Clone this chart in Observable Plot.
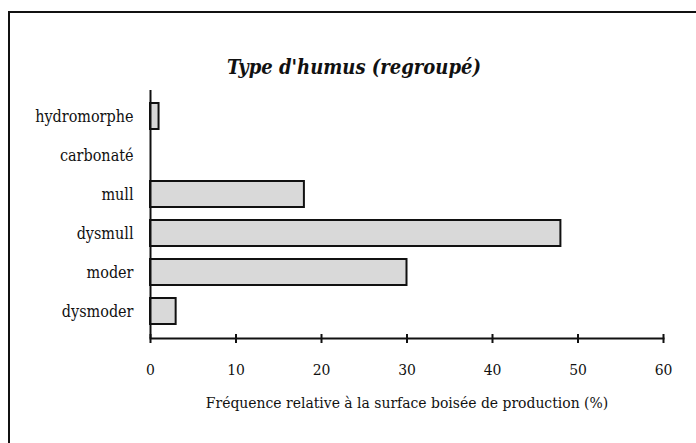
<!DOCTYPE html>
<html>
<head>
<meta charset="utf-8">
<script src="https://cdn.jsdelivr.net/npm/d3@7"></script>
<script src="https://cdn.jsdelivr.net/npm/@observablehq/plot@0.6"></script>
<style>
  html, body { margin: 0; padding: 0; background: #fff; overflow: hidden; }
  #wrap { position: relative; width: 696px; height: 443px; }
  #border { position: absolute; left: 8px; top: 11px; width: 800px; height: 600px; border: 2px solid #111; pointer-events: none; }
  #wrap svg text { font-stretch: condensed; }
</style>
</head>
<body>
<div id="wrap"><div id="border"></div></div>
<script>
const categories = ["hydromorphe", "carbonaté", "mull", "dysmull", "moder", "dysmoder"];
const values = [1, 0, 18, 48, 30, 3];
const xTicks = [0, 10, 20, 30, 40, 50, 60];
const title = "Type d'humus (regroupé)";
const xLabel = "Fréquence relative à la surface boisée de production (%)";

const data = categories.map((c, i) => ({category: c, value: values[i]}));
const FF = "'DejaVu Serif Condensed', 'DejaVu Serif', serif";

const chart = Plot.plot({
  width: 696,
  height: 443,
  marginLeft: 150,
  marginRight: 33,
  marginTop: 90,
  marginBottom: 105,
  style: "font-family: 'DejaVu Serif Condensed', 'DejaVu Serif', serif; color: #111; background: transparent;",
  x: {domain: [0, 60], label: null},
  y: {domain: categories, padding: 0.33, label: null},
  marks: [
    Plot.barX(data.filter(d => d.value > 0), {x: "value", y: "category", fill: "#d9d9d9", stroke: "#111", strokeWidth: 2}),
    Plot.ruleX([0], {stroke: "#111", strokeWidth: 2}),
    Plot.frame({anchor: "bottom", stroke: "#111", strokeWidth: 2}),
    Plot.ruleX(xTicks, {x: d => d, stroke: "#111", strokeWidth: 2, insetTop: 239, dy: 5}),
    Plot.axisX({ticks: xTicks, tickSize: 0, tickPadding: 25, fontSize: 15.5, fontFamily: FF, label: null, tickFormat: d => String(d)}),
    Plot.axisY({tickSize: 0, tickPadding: 17, fontSize: 16, fontFamily: FF, label: null}),
    Plot.text([title], {text: d => d, frameAnchor: "top", dx: -53, dy: -23, lineAnchor: "middle", fontSize: 20, fontFamily: FF, fontWeight: "bold", fontStyle: "italic", fill: "#111"}),
    Plot.text([xLabel], {text: d => d, frameAnchor: "bottom", dy: 65, lineAnchor: "middle", fontSize: 15.5, fontFamily: FF, fill: "#111"})
  ]
});
document.getElementById("wrap").appendChild(chart);
chart.style.position = "absolute";
chart.style.left = "0";
chart.style.top = "0";
</script>
</body>
</html>
